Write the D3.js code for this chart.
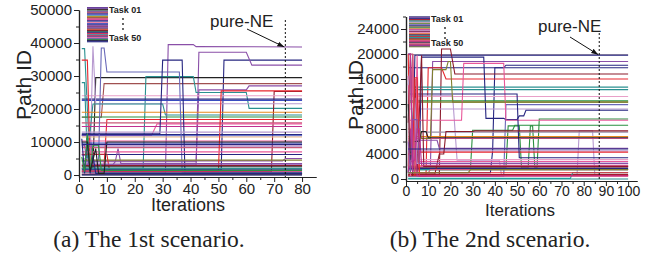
<!DOCTYPE html>
<html>
<head>
<meta charset="utf-8">
<script src="https://cdn.jsdelivr.net/npm/d3@7"></script>
<style>
  body { margin: 0; background: #fff; }
  svg { display: block; }
  text { font-family: "Liberation Sans", Arial, sans-serif; fill: #222; }
</style>
</head>
<body>
<div id="chart"></div>
<script>
// ---- data: each task is a list of [iteration, path id] points ----
const tasksA = [
  [[1,6000],[3,6000],[4,500],[31,500],[32,39500],[41,39500],[42,38900],[80,38800]],
  [[1,1500],[51,1500],[52,34800],[80,34800]],
  [[1,9000],[2,9000],[3,3000],[42,3000],[43,37200],[60,37200],[62,33300],[80,33300]],
  [[1,2000],[5,2000],[6,29500],[80,29500]],
  [[1,17500],[8,17500],[9,27700],[80,27700]],
  [[1,38300],[2,38300],[3,20000],[4,2000],[23,2000],[24,29800],[41,29800],[42,25000],[60,25000],[61,20200],[80,20200]],
  [[1,12000],[4,12000],[5,4000],[42,4000],[43,25800],[60,25800],[61,27000],[80,27000]],
  [[1,1000],[69,1000],[70,25300],[80,25300]],
  [[1,24000],[80,24000]],
  [[1,23000],[80,23000]],
  [[1,22600],[80,22600]],
  [[1,5000],[4,5000],[5,39000],[6,21600],[80,21600]],
  [[1,28000],[2,28000],[3,5000],[5,21500],[30,21500],[31,18200],[80,18200]],
  [[1,19000],[80,19000]],
  [[1,17600],[80,17600]],
  [[1,34800],[3,34800],[4,3000],[9,3000],[10,16800],[80,16800]],
  [[1,15800],[80,15800]],
  [[1,12000],[26,12000],[28,15500],[80,15500]],
  [[1,14700],[80,14700]],
  [[1,12300],[80,12300]],
  [[1,11900],[80,11900]],
  [[1,11500],[80,11500]],
  [[1,10300],[80,10300]],
  [[1,9700],[80,9700]],
  [[1,4000],[7,4000],[8,38500],[9,38500],[10,31200],[36,31200],[37,800],[80,800]],
  [[1,12500],[29,12500],[30,34800],[37,34800],[38,500],[80,500]],
  [[1,8800],[80,8800]],
  [[1,8300],[80,8300]],
  [[1,6200],[80,6200]],
  [[1,3000],[12,3000],[13,4000],[14,8000],[15,3500],[80,3500]],
  [[1,4300],[73,4300],[74,5000],[80,5000]],
  [[1,4500],[80,4500]],
  [[1,6300],[10,6300],[11,1000],[50,1000],[51,25500],[80,25500]],
  [[1,2900],[80,2900]],
  [[1,2500],[80,2500]],
  [[1,2000],[80,2000]],
  [[1,1600],[80,1600]],
  [[1,1200],[80,1200]],
  [[1,900],[80,900]],
  [[1,600],[80,600]],
  [[1,300],[80,300]],
  [[1,100],[80,100]],
  [[1,3300],[80,3300]],
  [[1,7000],[80,7000]],
  [[1,13000],[80,13000]],
  [[1,11000],[2,500],[3,11000],[4,500],[5,6000],[6,500],[80,500]],
  [[1,5500],[2,1000],[3,12500],[4,1000],[5,9000],[7,9000],[8,1400],[80,1400]],
  [[1,10000],[3,10000],[4,1000],[6,8000],[7,500],[9,500],[10,10000],[80,10000]],
  [[1,0],[80,0]],
  [[1,9300],[80,9300]]
];

const tasksB = [
  [[1,19900],[100,19900]],
  [[1,20000],[2,20000],[3,1000],[4,19800],[100,19800]],
  [[1,2000],[11,2000],[12,18800],[100,18800]],
  [[1,1000],[38,1000],[39,4500],[40,17800],[44,17800],[45,18200],[100,18200]],
  [[1,17800],[100,17800]],
  [[1,500],[15,500],[16,20800],[20,20800],[22,16800],[100,16800]],
  [[1,500],[9,500],[10,17800],[16,17800],[18,16000],[100,16000]],
  [[1,14700],[100,14700]],
  [[1,1000],[4,14300],[100,14300]],
  [[1,13300],[21,13300],[23,3000],[42,3000],[43,600],[77,600],[78,7700],[84,7700],[85,600],[100,600]],
  [[1,13200],[100,13200]],
  [[1,12500],[100,12500]],
  [[1,12300],[100,12300]],
  [[1,500],[44,500],[45,11900],[100,11900]],
  [[1,11200],[100,11200]],
  [[1,2000],[6,2000],[7,19500],[35,19500],[36,9700],[44,9700],[45,9500],[50,9500],[51,10100],[53,10100],[54,11000],[100,11000]],
  [[1,1800],[45,1800],[46,8500],[51,8500],[52,1800],[55,1800],[56,8500],[57,8500],[58,1800],[59,1800],[60,9600],[100,9600]],
  [[1,9400],[25,9400],[26,18500],[44,18500],[45,9400],[100,9400]],
  [[1,1500],[29,1500],[30,7800],[48,7800],[49,8600],[100,8600]],
  [[1,7500],[100,7500]],
  [[1,6800],[100,6800]],
  [[1,6500],[100,6500]],
  [[1,6200],[14,6200],[15,4900],[100,4900]],
  [[1,4500],[100,4500]],
  [[1,4300],[100,4300]],
  [[1,13600],[50,13600],[51,3400],[100,3400]],
  [[1,3100],[100,3100]],
  [[1,2800],[100,2800]],
  [[1,2100],[100,2100]],
  [[1,1900],[100,1900]],
  [[1,1700],[100,1700]],
  [[1,1500],[100,1500]],
  [[1,700],[100,700]],
  [[1,600],[100,600]],
  [[1,0],[100,0]],
  [[1,100],[74,100],[75,1000],[100,1000]],
  [[1,800],[13,800],[15,4000],[17,4000],[18,7600],[30,7600],[31,7700],[100,7700]],
  [[1,8000],[6,8000],[7,6500],[11,6500],[12,17500],[18,17500],[19,18800],[20,18800],[21,12300],[100,12300]],
  [[1,20000],[2,2000],[3,20000],[4,500],[5,16000],[6,500],[100,500]],
  [[1,16500],[2,500],[3,19800],[4,2000],[5,19800],[6,2000],[100,2000]],
  [[1,9000],[2,19800],[3,500],[4,16000],[5,1000],[7,19800],[8,2000],[100,2000]],
  [[1,1000],[2,8000],[3,1000],[4,9000],[5,500],[100,500]],
  [[1,12000],[2,3000],[3,6000],[6,6000],[7,7600],[9,7600],[10,6600],[100,6600]],
  [[1,15000],[2,18000],[3,3000],[4,13000],[5,2500],[100,2500]],
  [[1,2000],[2,20000],[3,20000],[4,1000],[10,1000],[11,1500],[100,1500]],
  [[1,4000],[3,4000],[4,16200],[5,16200],[6,1000],[100,1000]],
  [[1,6000],[2,1000],[3,9500],[5,9500],[6,2500],[100,2500]],
  [[1,20000],[2,20000],[3,3000],[4,3000],[5,8000],[6,8000],[7,2200],[100,2200]],
  [[1,4800],[100,4800]],
  [[1,1000],[28,1000],[29,1500],[100,1500]]
];

const xTicksA = [0, 10, 20, 30, 40, 50, 60, 70, 80];
const yTicksA = [0, 10000, 20000, 30000, 40000, 50000];
const xTicksB = [0, 10, 20, 30, 40, 50, 60, 70, 80, 90, 100];
const yTicksB = [0, 4000, 8000, 12000, 16000, 20000, 24000];
const captions = ['(a) The 1st scenario.', '(b) The 2nd scenario.'];
const neIters = [74, 87];

// ---- colours ----
const pal = {
  wine: '#8b1a2b', red: '#e8262e', pink: '#e9589a', rose: '#c85a7a', lav: '#b89ad0',
  purple: '#8a4fa8', navy: '#262680', blue: '#3a4cc0', slate: '#6868b8', teal: '#2a9090',
  green: '#2a9040', olive: '#808030', orange: '#e68a1e', black: '#222222', brown: '#a05050',
  gray: '#9a90a8', peach: '#f0b888', magenta: '#c03090', cyan: '#20a0a0', lpink: '#e8a0c8'
};
const colorsA = ['purple','navy','purple','black','brown','teal','purple','wine','lpink','navy',
  'blue','lav','teal','orange','green','red','rose','pink','magenta','navy',
  'blue','peach','pink','blue','slate','navy','purple','rose','navy','purple',
  'purple','olive','red','wine','black','teal','navy','red','magenta','teal',
  'pink','black','purple','pink','lav','navy','green','black','navy','navy'].map(k => pal[k]);
const colorsB = ['gray','navy','purple','navy','navy','wine','red','teal','teal','lav',
  'lpink','green','olive','slate','lav','navy','green','pink','green','gray',
  'orange','pink','purple','lav','red','navy','lpink','pink','orange','brown',
  'navy','teal','wine','red','teal','cyan','wine','olive','red','pink',
  'wine','magenta','black','lav','rose','red','purple','magenta','navy','olive'].map(k => pal[k]);

const W = 659, H = 257;
const svg = d3.select('#chart').append('svg').attr('width', W).attr('height', H);

const defs = svg.append('defs');
defs.append('marker')
  .attr('id', 'arrow')
  .attr('viewBox', '0 0 10 10')
  .attr('refX', 10).attr('refY', 5)
  .attr('markerWidth', 7).attr('markerHeight', 7)
  .attr('orient', 'auto')
  .append('path').attr('d', 'M0,1.5 L10,5 L0,8.5 Z').attr('fill', '#111');

function drawPanel(p, tasks, colors, xTicks, yTicks, caption, neIter) {
  const x = d3.scaleLinear().domain(p.xDomain).range(p.xRange);
  const y = d3.scaleLinear().domain(p.yDomain).range(p.yRange);
  const g = svg.append('g');

  const line = d3.line().x(d => x(d[0])).y(d => y(d[1]));

  // task lines
  g.selectAll('.task')
    .data(tasks)
    .enter()
    .append('path')
    .attr('class', 'task')
    .attr('d', line)
    .attr('fill', 'none')
    .attr('stroke', (d, i) => colors[i])
    .attr('stroke-width', 1.1);

  // axes
  const fmt = d3.format('d');
  const xAxis = g.append('g')
    .attr('transform', `translate(0,${p.yRange[0]})`)
    .call(d3.axisBottom(x).tickValues(xTicks).tickFormat(fmt).tickSize(5).tickSizeOuter(0).tickPadding(p.xPad));
  g.append('g')
    .attr('transform', `translate(0,${p.yRange[0]})`)
    .call(d3.axisBottom(x).tickValues(p.xMinor).tickSize(3).tickSizeOuter(0).tickFormat(''));
  const yAxis = g.append('g')
    .attr('transform', `translate(${p.xRange[0]},0)`)
    .call(d3.axisLeft(y).tickValues(yTicks).tickFormat(fmt).tickSize(5).tickSizeOuter(0).tickPadding(2));
  g.append('g')
    .attr('transform', `translate(${p.xRange[0]},0)`)
    .call(d3.axisLeft(y).tickValues(p.yMinor).tickSize(3).tickSizeOuter(0).tickFormat(''));

  g.selectAll('.domain').attr('stroke', '#222').attr('stroke-width', 1.2);
  g.selectAll('.tick line').attr('stroke', '#222');
  xAxis.selectAll('text').style('font-size', p.tickFont).style('fill', '#222').attr('font-family', null);
  yAxis.selectAll('text').style('font-size', '15px').style('fill', '#222').attr('font-family', null);

  // pure-NE marker
  g.append('line')
    .attr('x1', x(neIter)).attr('x2', x(neIter))
    .attr('y1', p.neTop).attr('y2', p.yRange[0])
    .attr('stroke', '#111').attr('stroke-width', 1)
    .attr('stroke-dasharray', '2,2');
  g.append('text')
    .attr('x', p.neLabel[0]).attr('y', p.neLabel[1])
    .style('font-size', '17px')
    .text('pure-NE');
  g.append('line')
    .attr('x1', p.arrowFrom[0]).attr('y1', p.arrowFrom[1])
    .attr('x2', x(neIter) - 1).attr('y2', y(p.arrowTo))
    .attr('stroke', '#111').attr('stroke-width', 1)
    .attr('marker-end', 'url(#arrow)');

  // legend: one stripe per task
  const lg = g.append('g');
  const stripe = (p.legend.h) / colors.length;
  lg.selectAll('rect')
    .data(colors)
    .enter()
    .append('rect')
    .attr('x', p.legend.x).attr('y', (d, i) => p.legend.y + i * stripe)
    .attr('width', p.legend.w).attr('height', stripe + 0.3)
    .attr('fill', d => d);
  lg.append('text')
    .attr('x', p.legend.x + p.legend.w + 1).attr('y', p.legend.y + 6)
    .style('font-size', '9px').style('font-weight', 'bold').text('Task 01');
  lg.append('text')
    .attr('x', p.legend.x + p.legend.w + 1).attr('y', p.legend.y + p.legend.h - 1)
    .style('font-size', '9px').style('font-weight', 'bold').text('Task 50');
  lg.selectAll('circle')
    .data([0, 1, 2])
    .enter()
    .append('circle')
    .attr('cx', p.legend.x + p.legend.w + 15)
    .attr('cy', d => p.legend.y + 12 + d * 5)
    .attr('r', 0.9)
    .attr('fill', '#222');

  // axis titles
  g.append('text')
    .attr('x', p.xTitle[0]).attr('y', p.xTitle[1])
    .attr('text-anchor', 'middle')
    .style('font-size', p.xTitleFont)
    .text('Iterations');
  g.append('text')
    .attr('transform', `translate(${p.yTitle[0]},${p.yTitle[1]}) rotate(-90)`)
    .attr('text-anchor', 'middle')
    .style('font-size', '21px')
    .text('Path ID');

  // caption
  g.append('text')
    .attr('x', p.caption[0]).attr('y', p.caption[1])
    .attr('text-anchor', 'middle')
    .style('font-family', '"Liberation Serif", "Times New Roman", serif')
    .style('font-size', '23.5px')
    .text(caption);
}

drawPanel({
  xDomain: [0, 85], xRange: [79, 316],
  yDomain: [-600, 50000], yRange: [177, 10],
  xMinor: d3.range(5, 85, 10), yMinor: d3.range(5000, 50000, 10000),
  tickFont: '15px', xPad: 1, xTitleFont: '18px',
  neTop: 20, neLabel: [210, 27], arrowFrom: [247, 29], arrowTo: 38800,
  legend: { x: 87, y: 7, w: 21, h: 35 },
  xTitle: [188, 211], yTitle: [31, 85], caption: [149, 247]
}, tasksA, colorsA, xTicksA, yTicksA, captions[0], neIters[0]);

drawPanel({
  xDomain: [0, 104], xRange: [406, 637],
  yDomain: [-320, 26000], yRange: [181, 16.5],
  xMinor: d3.range(5, 104, 10), yMinor: d3.range(2000, 26001, 4000),
  tickFont: '14px', xPad: 0, xTitleFont: '17px',
  neTop: 33, neLabel: [538, 32], arrowFrom: [570, 37], arrowTo: 19900,
  legend: { x: 409, y: 16, w: 21, h: 31 },
  xTitle: [520, 216], yTitle: [363, 95], caption: [490, 247]
}, tasksB, colorsB, xTicksB, yTicksB, captions[1], neIters[1]);
</script>
</body>
</html>
